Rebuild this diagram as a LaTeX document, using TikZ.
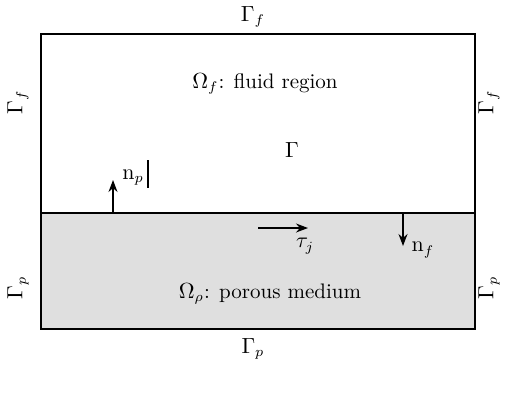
\documentclass[tikz,border=0pt]{standalone}
\usepackage{tikz}
\usetikzlibrary{arrows.meta}
\usepackage{amsmath,amssymb}

\begin{document}
\begin{tikzpicture}[x=0.5pt,y=-0.5pt,
    font=\fontsize{10.5}{12}\selectfont,
    bnd/.style={inner sep=1pt},
    vec/.style={-{Stealth[length=6pt,width=4.5pt]},line width=0.6pt}]
  \useasboundingbox (0,0) rectangle (507,397);
  % porous part and outer box
  \fill[gray!25] (41,213) rectangle (475,329);
  \draw[line width=0.6pt] (41,34) rectangle (475,329);
  \draw[line width=0.6pt] (41,213) -- (475,213);

  % boundary labels
  \node[bnd] (gtop) at (253,17) {$\Gamma_f$};
  \node[bnd] (gbot) at (253,349) {$\Gamma_p$};
  \node[bnd,rotate=90] (gleftf) at (18,102) {$\Gamma_f$};
  \node[bnd,rotate=90] (gleftp) at (18,288) {$\Gamma_p$};
  \node[bnd,rotate=90] (grightf) at (489,102) {$\Gamma_f$};
  \node[bnd,rotate=90] (grightp) at (489,288) {$\Gamma_p$};

  % regions
  \node (fluid) at (265,84) {$\Omega_f$: fluid region};
  \node (porous) at (270,294) {$\Omega_\rho$: porous medium};
  \node (gam) at (292,150) {$\Gamma$};

  % normals and tangent
  \coordinate (np0) at (113,213);
  \coordinate (np1) at (113,180);
  \draw[vec] (np0) -- (np1);
  \node[anchor=south west,inner sep=1pt] (nplab) at (120,188) {$\mathrm{n}_p$};
  \draw[line width=0.6pt] (148,160) -- (148,188);

  \coordinate (tau0) at (258,228);
  \coordinate (tau1) at (308,228);
  \draw[vec] (tau0) -- (tau1);
  \node[inner sep=1pt] (taulab) at (305,246) {$\tau_j$};

  \coordinate (nf0) at (403,213);
  \coordinate (nf1) at (403,246);
  \draw[vec] (nf0) -- (nf1);
  \node[inner sep=1pt] (nflab) at (423,250) {$\mathrm{n}_f$};
\end{tikzpicture}
\end{document}
